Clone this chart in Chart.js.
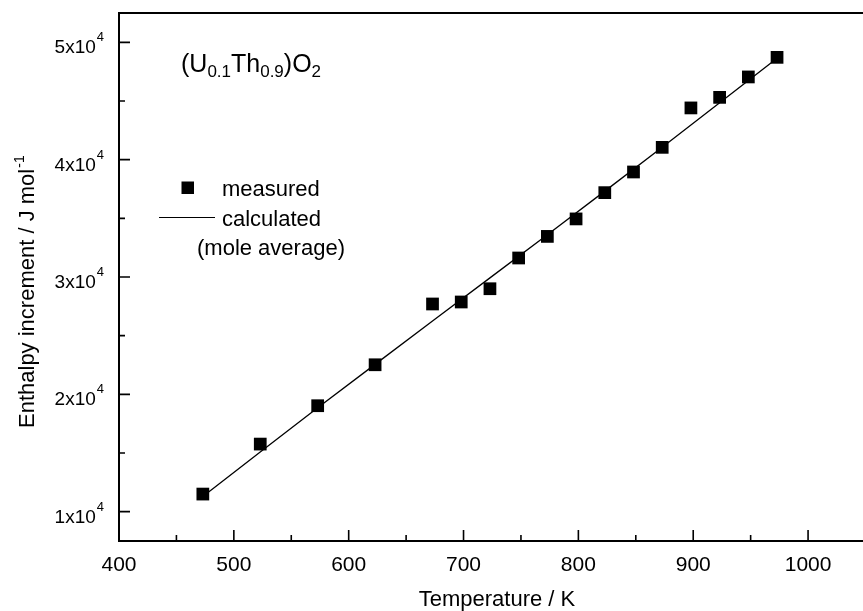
<!DOCTYPE html>
<html>
<head>
<meta charset="utf-8">
<script src="https://cdn.jsdelivr.net/npm/chart.js@4/dist/chart.umd.min.js"></script>
<style>
  html, body { margin: 0; padding: 0; background: #fff; }
  #wrap { width: 863px; height: 611px; }
</style>
</head>
<body>
<div id="wrap"><canvas id="enthalpy" width="863" height="611"></canvas></div>
<script>
// measured points (K, J/mol)
const measT = [473, 523, 573, 623, 673, 698, 723, 748, 773, 798, 823, 848, 873, 898, 923, 948, 973];
const measH = [11500, 15760, 19030, 22520, 27700, 27870, 29000, 31620, 33460, 34950, 37190, 38950, 41050, 44410, 45310, 47050, 48720];

// calculated (mole average) curve
const calcT = [473, 573, 673, 773, 873, 973];
const calcH = [11300, 18850, 26250, 33600, 41050, 48650];

// axis ticks
const xMajor = [400, 500, 600, 700, 800, 900, 1000];
const xMinor = [450, 550, 650, 750, 850, 950];
const yMajor = [10000, 20000, 30000, 40000, 50000];
const yMinor = [15000, 25000, 35000, 45000];

const FONT = '"Liberation Sans", Arial, sans-serif';

const framePlugin = {
    id: 'frame',
    afterDraw(chart) {
        const { ctx, chartArea, scales } = chart;
        const { left, top, bottom } = chartArea;
        const right = chart.width;
        const xs = scales.x, ys = scales.y;

        ctx.save();
        ctx.strokeStyle = '#000';
        ctx.fillStyle = '#000';

        // box (no right edge in the original)
        ctx.lineWidth = 2;
        ctx.beginPath();
        ctx.moveTo(right, top);
        ctx.lineTo(left, top);
        ctx.lineTo(left, bottom);
        ctx.lineTo(right, bottom);
        ctx.stroke();

        // inward ticks
        ctx.lineWidth = 1.6;
        ctx.beginPath();
        xMajor.forEach(v => { const px = xs.getPixelForValue(v); ctx.moveTo(px, bottom); ctx.lineTo(px, bottom - 11); });
        xMinor.forEach(v => { const px = xs.getPixelForValue(v); ctx.moveTo(px, bottom); ctx.lineTo(px, bottom - 6); });
        yMajor.forEach(v => { const py = ys.getPixelForValue(v); ctx.moveTo(left, py); ctx.lineTo(left + 11, py); });
        yMinor.forEach(v => { const py = ys.getPixelForValue(v); ctx.moveTo(left, py); ctx.lineTo(left + 6, py); });
        ctx.stroke();

        // x tick labels
        ctx.font = `21px ${FONT}`;
        ctx.textAlign = 'center';
        ctx.textBaseline = 'alphabetic';
        xMajor.forEach(v => ctx.fillText(String(v), xs.getPixelForValue(v), 571));

        // y tick labels: "Nx10^4"
        yMajor.forEach(v => {
            const py = ys.getPixelForValue(v);
            const main = `${v / 10000}x10`;
            ctx.font = `13px ${FONT}`;
            const supW = ctx.measureText('4').width;
            ctx.font = `19px ${FONT}`;
            const mainW = ctx.measureText(main).width;
            const endX = 104;
            ctx.textAlign = 'left';
            ctx.fillText(main, endX - supW - mainW - 1, py + 11);
            ctx.font = `13px ${FONT}`;
            ctx.fillText('4', endX - supW, py - 1);
        });

        // axis titles
        ctx.font = `22px ${FONT}`;
        ctx.textAlign = 'center';
        ctx.fillText('Temperature / K', 497, 606);

        ctx.save();
        ctx.translate(34, 428);
        ctx.rotate(-Math.PI / 2);
        ctx.textAlign = 'left';
        ctx.font = `22px ${FONT}`;
        const yt = 'Enthalpy increment / J mol';
        const ytW = ctx.measureText(yt).width;
        ctx.fillText(yt, 0, 0);
        ctx.font = `14px ${FONT}`;
        ctx.fillText('-1', ytW + 1, -10);
        ctx.restore();

        // formula label (U0.1Th0.9)O2
        const parts = [['(U', false], ['0.1', true], ['Th', false], ['0.9', true], [')O', false], ['2', true]];
        let cx = 181;
        ctx.textAlign = 'left';
        parts.forEach(([t, sub]) => {
            ctx.font = sub ? `17px ${FONT}` : `25px ${FONT}`;
            ctx.fillText(t, cx, sub ? 77 : 72);
            cx += ctx.measureText(t).width;
        });

        // legend
        ctx.fillRect(181.5, 181.5, 12.5, 12.5);
        ctx.lineWidth = 1;
        ctx.beginPath();
        ctx.moveTo(159, 217.5);
        ctx.lineTo(215, 217.5);
        ctx.stroke();
        ctx.font = `22px ${FONT}`;
        ctx.fillText('measured', 222, 196);
        ctx.fillText('calculated', 222, 225.5);
        ctx.fillText('(mole average)', 197, 255);

        ctx.restore();
    }
};

new Chart(document.getElementById('enthalpy'), {
    type: 'scatter',
    data: {
        datasets: [
            {
                label: 'calculated (mole average)',
                data: calcT.map((t, i) => ({ x: t, y: calcH[i] })),
                showLine: true,
                borderColor: '#000',
                borderWidth: 1.3,
                pointRadius: 0,
                tension: 0.2,
                order: 2
            },
            {
                label: 'measured',
                data: measT.map((t, i) => ({ x: t, y: measH[i] })),
                showLine: false,
                pointStyle: 'rect',
                pointRadius: 9,
                backgroundColor: '#000',
                borderColor: '#000',
                borderWidth: 0,
                order: 1
            }
        ]
    },
    options: {
        responsive: false,
        animation: false,
        devicePixelRatio: 1,
        layout: { padding: { left: 119, top: 13, right: 0, bottom: 70 } },
        plugins: {
            legend: { display: false },
            tooltip: { enabled: false }
        },
        scales: {
            x: {
                type: 'linear',
                min: 400,
                max: 1040,
                grid: { display: false, drawTicks: false },
                border: { display: false },
                ticks: { display: false }
            },
            y: {
                type: 'linear',
                min: 7500,
                max: 52500,
                grid: { display: false, drawTicks: false },
                border: { display: false },
                ticks: { display: false }
            }
        }
    },
    plugins: [framePlugin]
});
</script>
</body>
</html>
